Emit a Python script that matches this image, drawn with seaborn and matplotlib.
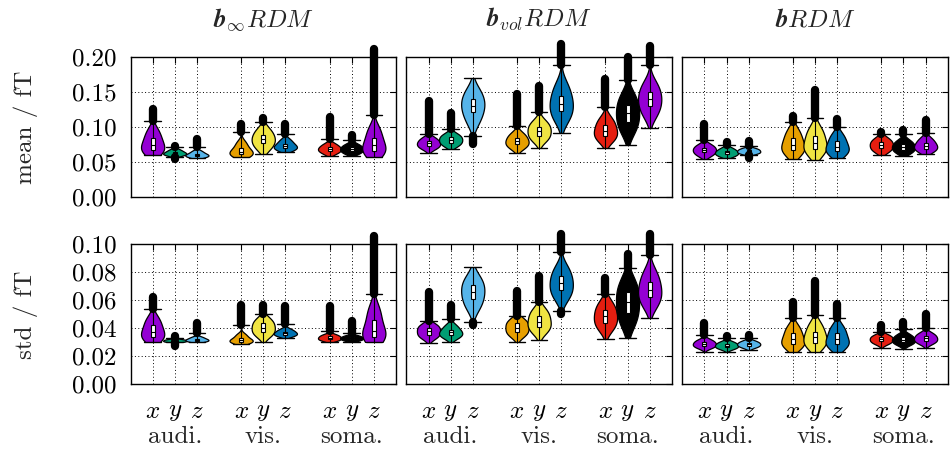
import numpy as np
import pandas as pd
import matplotlib
matplotlib.use("Agg")
import matplotlib.pyplot as plt
import matplotlib.patches as mpatches
import matplotlib.transforms as mtransforms
import seaborn as sns

# ---------------------------------------------------------------------------
# Layout of the categories
# ---------------------------------------------------------------------------
positions = [1, 2, 3, 5, 6, 7, 9, 10, 11]
axis_labels = ["$x$", "$y$", "$z$"] * 3
groups = ["audi.", "vis.", "soma."]
group_centers = [2, 6, 10]
colors = ["#9400d3", "#009e73", "#56b4e9",
          "#e69f00", "#f0e442", "#0072b2",
          "#e51e10", "#000000", "#9400d3"]
titles = [r"$\boldsymbol{b}_{\infty}RDM$", r"$\boldsymbol{b}_{vol}RDM$", r"$\boldsymbol{b}RDM$"]
row_labels = ["mean / fT", "std / fT"]
mean_ticks = [0.00, 0.05, 0.10, 0.15, 0.20]
std_ticks = [0.00, 0.02, 0.04, 0.06, 0.08, 0.10]

# ---------------------------------------------------------------------------
# Per-violin summaries: [whisker low, p10, q1, median, q3, p90, whisker high]
# plus the extent of the outliers above / below the whiskers (nan = none)
# ---------------------------------------------------------------------------
binf_mean = [
    [0.0605, 0.064, 0.0676, 0.075, 0.084, 0.095, 0.1095],
    [0.058, 0.060, 0.0615, 0.063, 0.065, 0.068, 0.0714],
    [0.0557, 0.0575, 0.059, 0.0605, 0.0625, 0.066, 0.0714],
    [0.057, 0.0595, 0.0615, 0.065, 0.070, 0.078, 0.0938],
    [0.062, 0.070, 0.077, 0.083, 0.089, 0.097, 0.108],
    [0.065, 0.068, 0.070, 0.073, 0.0765, 0.082, 0.0905],
    [0.059, 0.063, 0.0665, 0.069, 0.072, 0.076, 0.083],
    [0.059, 0.063, 0.066, 0.069, 0.072, 0.0755, 0.082],
    [0.057, 0.062, 0.066, 0.074, 0.085, 0.098, 0.1176],
]
binf_mean_out_hi = [0.126, 0.073, 0.083, 0.105, 0.113, 0.105, 0.115, 0.089, 0.212]
binf_mean_out_lo = [np.nan, 0.055, np.nan, np.nan, np.nan, np.nan, np.nan, np.nan, np.nan]

bvol_mean = [
    [0.0638, 0.070, 0.0735, 0.077, 0.0805, 0.085, 0.0905],
    [0.0686, 0.074, 0.078, 0.082, 0.086, 0.090, 0.097],
    [0.0876, 0.108, 0.122, 0.131, 0.141, 0.152, 0.170],
    [0.063, 0.071, 0.0755, 0.080, 0.085, 0.091, 0.102],
    [0.070, 0.082, 0.088, 0.095, 0.101, 0.108, 0.122],
    [0.0924, 0.112, 0.123, 0.134, 0.145, 0.160, 0.189],
    [0.070, 0.082, 0.088, 0.095, 0.103, 0.112, 0.1295],
    [0.0748, 0.095, 0.108, 0.120, 0.132, 0.145, 0.1676],
    [0.0986, 0.118, 0.130, 0.140, 0.150, 0.162, 0.189],
]
bvol_mean_out_hi = [0.138, 0.120, np.nan, 0.147, 0.159, 0.219, 0.169, 0.200, 0.216]
bvol_mean_out_lo = [np.nan, np.nan, 0.0757, np.nan, np.nan, np.nan, np.nan, np.nan, np.nan]

b_mean = [
    [0.0543, 0.060, 0.064, 0.0675, 0.071, 0.075, 0.0819],
    [0.0557, 0.059, 0.0615, 0.064, 0.0665, 0.070, 0.0748],
    [0.0605, 0.0625, 0.064, 0.066, 0.068, 0.070, 0.0733],
    [0.0543, 0.063, 0.0676, 0.075, 0.0843, 0.095, 0.108],
    [0.053, 0.063, 0.069, 0.077, 0.087, 0.098, 0.113],
    [0.0557, 0.062, 0.066, 0.072, 0.080, 0.089, 0.101],
    [0.0605, 0.066, 0.070, 0.075, 0.079, 0.084, 0.0905],
    [0.059, 0.064, 0.068, 0.072, 0.076, 0.081, 0.090],
    [0.062, 0.066, 0.0695, 0.0735, 0.078, 0.084, 0.092],
]
b_mean_out_hi = [0.105, 0.0786, 0.081, 0.1167, 0.154, 0.112, 0.093, 0.096, 0.110]
b_mean_out_lo = [np.nan, np.nan, 0.0567, np.nan, np.nan, np.nan, np.nan, np.nan, np.nan]

binf_std = [
    [0.0305, 0.032, 0.034, 0.0375, 0.042, 0.047, 0.0538],
    [0.030, 0.0303, 0.0307, 0.0312, 0.0317, 0.0322, 0.0329],
    [0.030, 0.0306, 0.0312, 0.0318, 0.0326, 0.0338, 0.0364],
    [0.0288, 0.0297, 0.0305, 0.0315, 0.0330, 0.0355, 0.0424],
    [0.0305, 0.035, 0.0375, 0.0405, 0.0435, 0.0465, 0.050],
    [0.0333, 0.0345, 0.0355, 0.0365, 0.0377, 0.0393, 0.0429],
    [0.030, 0.0313, 0.0322, 0.0332, 0.0343, 0.0355, 0.038],
    [0.030, 0.0313, 0.0322, 0.0330, 0.0338, 0.0348, 0.0364],
    [0.0305, 0.0325, 0.034, 0.038, 0.046, 0.054, 0.0643],
]
binf_std_out_hi = [0.062, 0.0347, 0.044, 0.0566, 0.0566, 0.0561, 0.0561, 0.0454, 0.106]
binf_std_out_lo = [np.nan, 0.0274, np.nan, np.nan, np.nan, np.nan, np.nan, np.nan, np.nan]

bvol_std = [
    [0.0293, 0.0335, 0.0355, 0.038, 0.0405, 0.0425, 0.0452],
    [0.030, 0.0335, 0.0352, 0.037, 0.039, 0.042, 0.0467],
    [0.0448, 0.055, 0.061, 0.066, 0.071, 0.076, 0.0836],
    [0.030, 0.035, 0.0375, 0.0405, 0.0435, 0.046, 0.049],
    [0.0317, 0.038, 0.041, 0.0448, 0.049, 0.053, 0.059],
    [0.0524, 0.062, 0.067, 0.072, 0.077, 0.083, 0.0948],
    [0.0324, 0.040, 0.044, 0.0485, 0.053, 0.058, 0.0643],
    [0.0329, 0.044, 0.051, 0.059, 0.066, 0.073, 0.0829],
    [0.0476, 0.057, 0.062, 0.0674, 0.073, 0.080, 0.0924],
]
bvol_std_out_hi = [0.0657, 0.0566, np.nan, 0.0669, 0.0776, 0.107, 0.0761, 0.0931, 0.107]
bvol_std_out_lo = [np.nan, np.nan, 0.0424, np.nan, np.nan, 0.0505, np.nan, np.nan, np.nan]

b_std = [
    [0.0233, 0.0262, 0.0275, 0.0288, 0.0302, 0.0318, 0.0352],
    [0.0233, 0.0255, 0.0266, 0.0277, 0.029, 0.0303, 0.0329],
    [0.0245, 0.0265, 0.0276, 0.0287, 0.0297, 0.031, 0.0329],
    [0.0233, 0.0272, 0.0285, 0.032, 0.0364, 0.041, 0.0476],
    [0.0229, 0.027, 0.0295, 0.0335, 0.0376, 0.043, 0.0495],
    [0.0233, 0.027, 0.0285, 0.032, 0.0365, 0.041, 0.0476],
    [0.0257, 0.0292, 0.0307, 0.0322, 0.0337, 0.0352, 0.0371],
    [0.0252, 0.0287, 0.0302, 0.0318, 0.0335, 0.0355, 0.0395],
    [0.0262, 0.0295, 0.031, 0.0328, 0.0345, 0.0365, 0.0405],
]
b_std_out_hi = [0.0441, 0.0347, 0.0351, 0.059, 0.074, 0.0571, 0.0423, 0.0447, 0.0501]
b_std_out_lo = [np.nan] * 9

panels = [
    [(binf_mean, binf_mean_out_hi, binf_mean_out_lo),
     (bvol_mean, bvol_mean_out_hi, bvol_mean_out_lo),
     (b_mean, b_mean_out_hi, b_mean_out_lo)],
    [(binf_std, binf_std_out_hi, binf_std_out_lo),
     (bvol_std, bvol_std_out_hi, bvol_std_out_lo),
     (b_std, b_std_out_hi, b_std_out_lo)],
]

# ---------------------------------------------------------------------------
# Styling
# ---------------------------------------------------------------------------
sns.set_style("white")
plt.rcParams["font.family"] = ["cmr10", "DejaVu Serif"]
plt.rcParams["mathtext.fontset"] = "cm"
plt.rcParams["axes.unicode_minus"] = False
plt.rcParams["font.size"] = 18

FS = 18


def draw_panel(ax, summary, out_hi, out_lo):
    # density estimated from the inner quantiles, body limited to the whiskers
    rows = []
    for k, (pos, vals) in enumerate(zip(positions, summary)):
        for v in vals[1:6]:
            rows.append({"pos": pos, "value": v, "key": str(k)})
    df = pd.DataFrame(rows)

    n_before = len(ax.collections)
    sns.violinplot(data=df, x="pos", y="value", hue="key", palette=colors,
                   native_scale=True, density_norm="width", width=1.05, cut=3,
                   inner=None, bw_adjust=1.0, linewidth=0.9, linecolor="black",
                   saturation=1, dodge=False, legend=False, ax=ax)

    for coll in ax.collections[n_before:]:
        paths = coll.get_paths()
        if not paths:
            continue
        xs = paths[0].vertices[:, 0]
        center = 0.5 * (xs.min() + xs.max())
        i = int(np.argmin([abs(center - p) for p in positions]))
        lo, hi = summary[i][0], summary[i][6]
        rect = mpatches.Rectangle((positions[i] - 0.7, lo), 1.4, hi - lo,
                                  transform=ax.transData)
        coll.set_clip_path(rect)

    # outliers, drawn as overlapping dots forming a solid bar
    for pos, vals, hi, lo in zip(positions, summary, out_hi, out_lo):
        if np.isfinite(hi) and hi > vals[-1]:
            ax.plot([pos, pos], [vals[-1], hi], color="black", lw=6.0,
                    solid_capstyle="round", clip_on=False, zorder=3)
        if np.isfinite(lo) and lo < vals[0]:
            ax.plot([pos, pos], [lo, vals[0]], color="black", lw=6.0,
                    solid_capstyle="round", clip_on=False, zorder=3)

    stats = [dict(whislo=v[0], q1=v[2], med=v[3], q3=v[4], whishi=v[6], fliers=[])
             for v in summary]
    ax.bxp(stats, positions=positions, widths=0.18, capwidths=0.75,
           patch_artist=True, showfliers=False, manage_ticks=False,
           boxprops=dict(facecolor="white", edgecolor="black", linewidth=0.8),
           medianprops=dict(color="black", linewidth=0.8),
           whiskerprops=dict(color="black", linewidth=0.8),
           capprops=dict(color="black", linewidth=1.0), zorder=4)


fig, axes = plt.subplots(2, 3, figsize=(9.52, 4.53), dpi=100)
fig.subplots_adjust(left=0.1371, right=0.9955, top=0.8735, bottom=0.1517,
                    wspace=0.0395, hspace=0.3357)

for r in range(2):
    for c in range(3):
        ax = axes[r, c]
        summary, out_hi, out_lo = panels[r][c]
        draw_panel(ax, summary, out_hi, out_lo)

        ticks = mean_ticks if r == 0 else std_ticks
        ax.set_xlim(0, 12)
        ax.set_ylim(ticks[0], ticks[-1])
        ax.set_yticks(ticks)
        ax.set_xticks(positions)
        ax.set_xlabel("")
        ax.set_ylabel("")
        ax.set_axisbelow(True)
        ax.grid(True, color="black", linestyle=(0, (1, 2.5)), linewidth=0.7)
        ax.tick_params(direction="in", length=4, width=0.8, top=True, right=True,
                       labelsize=FS, colors="black")
        for s in ax.spines.values():
            s.set_visible(True)
            s.set_color("black")
            s.set_linewidth(1.0)

        if c == 0:
            ax.set_yticklabels([f"{t:.2f}" for t in ticks])
            ax.tick_params(axis="y", pad=10)
        else:
            ax.tick_params(axis="y", labelleft=False)

        if r == 1:
            ax.set_xticklabels(axis_labels)
            ax.tick_params(axis="x", pad=12)
            trans = mtransforms.blended_transform_factory(ax.transData, ax.transAxes)
            for g, gc in zip(groups, group_centers):
                ax.text(gc, -0.375, g, transform=trans, ha="center", va="center",
                        fontsize=FS)
        else:
            ax.tick_params(axis="x", labelbottom=False)
            ax.set_title(titles[c], fontsize=FS, pad=22)

fig.text(0.027, 0.719, row_labels[0], rotation=90, ha="center", va="center", fontsize=FS)
fig.text(0.027, 0.306, row_labels[1], rotation=90, ha="center", va="center", fontsize=FS)

fig.savefig("out.png", dpi=100)
